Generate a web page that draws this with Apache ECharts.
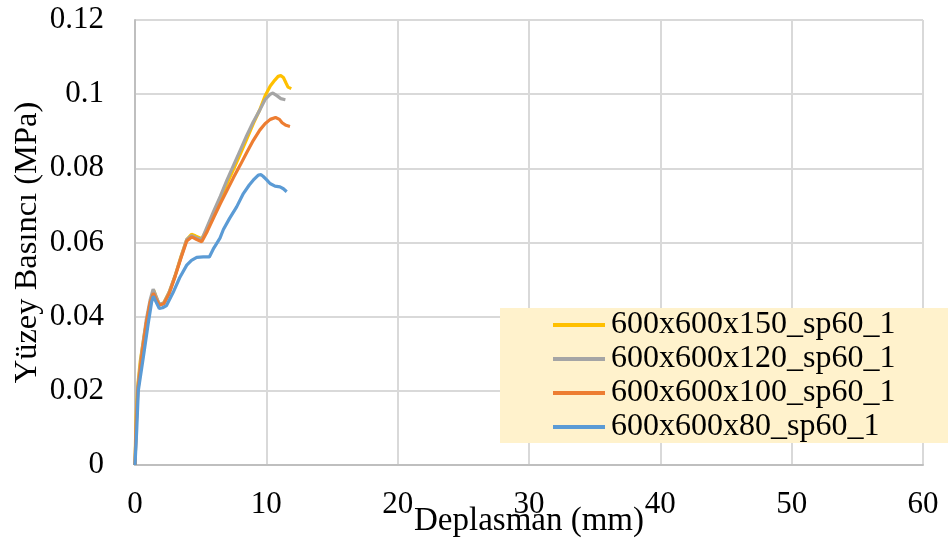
<!DOCTYPE html>
<html><head><meta charset="utf-8">
<script src="https://cdn.jsdelivr.net/npm/echarts@6/dist/echarts.min.js"></script>
<style>html,body{margin:0;padding:0;background:#fff}#c{width:948px;height:543px}</style>
</head><body><div id="c"></div>
<script>
const seriesNames = ['600x600x150_sp60_1','600x600x120_sp60_1','600x600x100_sp60_1','600x600x80_sp60_1'];
const xTicks = [0,10,20,30,40,50,60];
const yTicks = [0,0.02,0.04,0.06,0.08,0.1,0.12];

const s150 = [[0,0],[0.08,0.013],[0.2,0.021],[0.4,0.028],[0.7,0.035],[1.0,0.041],[1.25,0.045],[1.42,0.0472],[1.6,0.0455],[1.85,0.0432],[2.2,0.0438],[2.6,0.0466],[3.05,0.051],[3.5,0.0562],[3.94,0.0608],[4.3,0.0622],[4.6,0.0618],[5.08,0.061],[5.4,0.063],[6.0,0.068],[6.5,0.0718],[7.0,0.0758],[7.5,0.0797],[8.0,0.0837],[8.5,0.0878],[9.0,0.092],[9.5,0.0958],[9.9,0.0995],[10.3,0.1022],[10.65,0.1038],[10.9,0.1048],[11.1,0.105],[11.3,0.1045],[11.5,0.103],[11.65,0.1019],[11.9,0.1015]];
const s120 = [[0,0],[0.1,0.012],[0.22,0.021],[0.5,0.03],[0.85,0.039],[1.15,0.0445],[1.38,0.0474],[1.6,0.0455],[1.85,0.0433],[2.2,0.0437],[2.6,0.0466],[3.05,0.051],[3.5,0.056],[3.94,0.0608],[4.3,0.0618],[4.7,0.0612],[5.08,0.0608],[5.4,0.0635],[6.0,0.0685],[6.5,0.0725],[7.0,0.0768],[7.5,0.0808],[8.0,0.0848],[8.5,0.0888],[9.0,0.0925],[9.5,0.0957],[9.9,0.0985],[10.3,0.1],[10.5,0.1003],[10.8,0.0996],[11.1,0.0988],[11.45,0.0985]];
const s100 = [[0,0],[0.1,0.011],[0.22,0.02],[0.5,0.029],[0.85,0.038],[1.15,0.0438],[1.4,0.0463],[1.6,0.0448],[1.85,0.0431],[2.2,0.0435],[2.6,0.0462],[3.05,0.0508],[3.5,0.0558],[3.94,0.0604],[4.32,0.0615],[4.7,0.0608],[5.08,0.0602],[5.5,0.063],[6.0,0.0668],[6.5,0.0705],[7.0,0.074],[7.5,0.0775],[8.0,0.0808],[8.5,0.0842],[9.0,0.0875],[9.5,0.0903],[9.9,0.092],[10.3,0.0932],[10.7,0.0937],[11.0,0.0932],[11.2,0.0923],[11.5,0.0916],[11.8,0.0913]];
const s80 = [[0,0],[0.13,0.0094],[0.25,0.02],[0.63,0.029],[1.0,0.038],[1.27,0.044],[1.4,0.0455],[1.6,0.044],[1.85,0.0422],[2.1,0.0424],[2.4,0.043],[2.9,0.0465],[3.4,0.0505],[3.94,0.0539],[4.3,0.0552],[4.7,0.056],[5.2,0.0561],[5.66,0.0561],[6.0,0.0585],[6.47,0.0612],[6.73,0.0635],[7.2,0.0665],[7.74,0.0696],[8.25,0.0732],[8.7,0.0755],[9.0,0.0768],[9.39,0.0782],[9.6,0.0783],[9.77,0.0778],[10.03,0.0769],[10.28,0.0759],[10.66,0.0752],[11.04,0.075],[11.3,0.0745],[11.55,0.0737]];

const colors = ['#FFC000','#A5A5A5','#ED7D31','#5B9BD5'];
const datas = [s150,s120,s100,s80];
const FONT = '"Liberation Serif","Times New Roman",serif';

const chart = echarts.init(document.getElementById('c'));
chart.setOption({
  animation:false,
  backgroundColor:'#fff',
  grid:{left:135,right:25,top:20,bottom:78,outerBoundsMode:'none',containLabel:false},
  xAxis:{type:'value',min:xTicks[0],max:xTicks[xTicks.length-1],interval:10,
    name:'Deplasman (mm)',nameLocation:'middle',nameGap:40,nameMoveOverlap:false,
    nameTextStyle:{fontFamily:FONT,fontSize:33,color:'#000'},
    axisLine:{show:true,lineStyle:{color:'#BFBFBF',width:2}},
    axisTick:{show:false},
    axisLabel:{fontFamily:FONT,fontSize:31,color:'#000',margin:24},
    splitLine:{show:true,lineStyle:{color:'#D9D9D9',width:2}}},
  yAxis:{type:'value',min:yTicks[0],max:yTicks[yTicks.length-1],interval:0.02,
    name:'Yüzey Basıncı (MPa)',nameLocation:'middle',nameGap:91,nameMoveOverlap:false,
    nameTextStyle:{fontFamily:FONT,fontSize:32.5,color:'#000'},
    axisLine:{show:true,lineStyle:{color:'#BFBFBF',width:2}},
    axisTick:{show:false},
    axisLabel:{fontFamily:FONT,fontSize:31,color:'#000',margin:31,formatter:v=>String(+v.toFixed(2))},
    splitLine:{show:true,lineStyle:{color:'#D9D9D9',width:2}}},
  graphic:[{type:'rect',z:5,shape:{x:500,y:308,width:448,height:135},style:{fill:'#FFF2CC'}}],
  legend:{orient:'vertical',left:553,top:308,z:6,itemWidth:52,itemHeight:4,itemGap:0,
    icon:'rect',padding:0,
    textStyle:{fontFamily:FONT,fontSize:32,color:'#000',lineHeight:34,padding:[0,0,0,1]},
    data:seriesNames},
  series:seriesNames.map((n,i)=>({name:n,type:'line',data:datas[i],showSymbol:false,symbol:'none',
    lineStyle:{color:colors[i],width:3.2},itemStyle:{color:colors[i]},z:2+i}))
});
</script></body></html>
